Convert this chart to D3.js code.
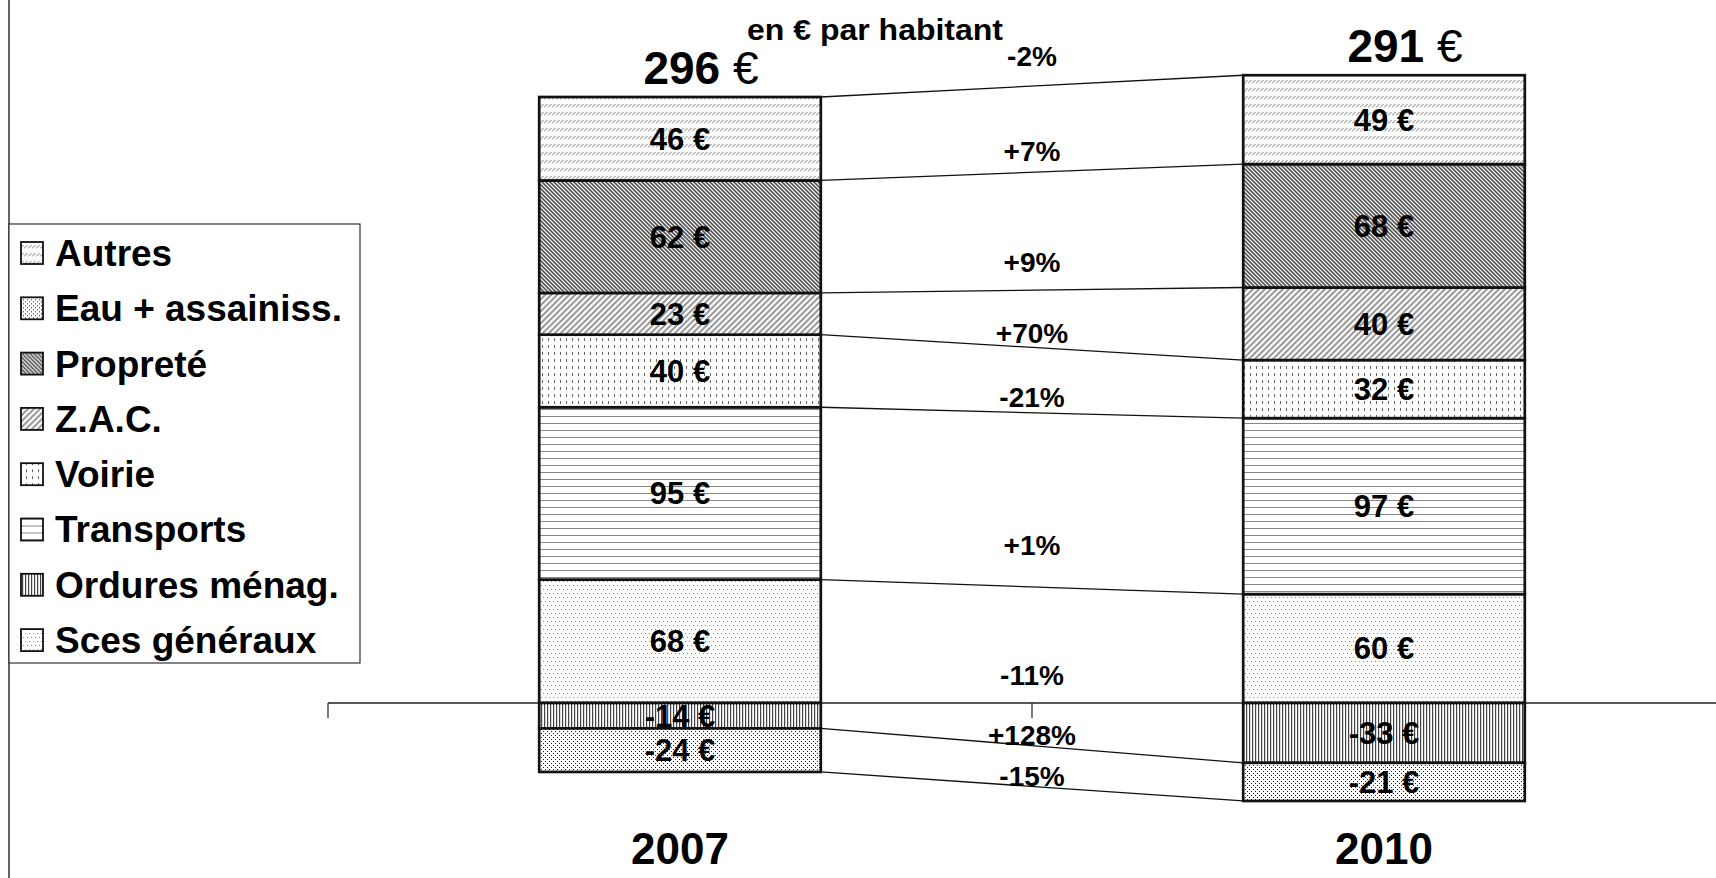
<!DOCTYPE html>
<html>
<head>
<meta charset="utf-8">
<script src="https://cdn.jsdelivr.net/npm/d3@7"></script>
<style>
  body { margin: 0; background: #fff; }
  text { font-family: "Liberation Sans", Arial, sans-serif; }
</style>
</head>
<body>
<div id="vis"></div>
<script>
const FRAME_WIDTH = 1716;
const FRAME_HEIGHT = 878;

// series in stacking order (legend shows them reversed)
const categories = ["Sces généraux", "Ordures ménag.", "Transports", "Voirie",
                    "Z.A.C.", "Propreté", "Eau + assainiss.", "Autres"];
const years = ["2007", "2010"];
const values2007 = [68, -14, 95, 40, 23, 62, -24, 46];
const values2010 = [60, -33, 97, 32, 40, 68, -21, 49];
const totals = ["296", "291"];
const changes = ["-11%", "+128%", "+1%", "-21%", "+70%", "+9%", "-15%", "+7%"];
const totalChange = "-2%";
const patternIds = ["p-sces", "p-ord", "p-trans", "p-voirie", "p-zac", "p-prop", "p-eau", "p-autres"];

const rows = years.map((yr, i) => {
  const r = {year: yr};
  categories.forEach((c, j) => { r[c] = (i == 0 ? values2007 : values2010)[j]; });
  return r;
});

const stack = d3.stack().keys(categories).offset(d3.stackOffsetDiverging);
const series = stack(rows);

const X_SCALE = d3.scaleBand().domain(years).range([328, 1736]);
const Y_SCALE = d3.scaleLinear().domain([0, 334]).range([703, 97]);
const BAR_W = X_SCALE.bandwidth() * 0.4;
const barLeft = (yr) => X_SCALE(yr) + (X_SCALE.bandwidth() - BAR_W) / 2;

const FRAME = d3.select("#vis").append("svg")
  .attr("width", FRAME_WIDTH)
  .attr("height", FRAME_HEIGHT);

// fill patterns
const defs = FRAME.append("defs");
function pat(id, w, h, draw) {
  const p = defs.append("pattern").attr("id", id)
    .attr("patternUnits", "userSpaceOnUse").attr("width", w).attr("height", h);
  p.append("rect").attr("width", w).attr("height", h).attr("fill", "#fff");
  draw(p);
}
pat("p-autres", 4, 8, p => p.append("path").attr("d", "M0,3.5 L3.5,0").attr("stroke", "#777").attr("stroke-width", 1));
pat("p-prop", 4, 4, p => p.append("path").attr("d", "M0,0 L4,4 M-1,3 L1,5 M3,-1 L5,1").attr("stroke", "#555").attr("stroke-width", 1.6));
pat("p-zac", 6, 6, p => p.append("path").attr("d", "M0,6 L6,0 M-1,1 L1,-1 M5,7 L7,5").attr("stroke", "#9a9a9a").attr("stroke-width", 2));
pat("p-voirie", 6, 7, p => p.append("rect").attr("x", 2).attr("y", 2).attr("width", 1).attr("height", 3).attr("fill", "#666"));
pat("p-trans", 8, 7, p => p.append("rect").attr("x", 0).attr("y", 3).attr("width", 8).attr("height", 1).attr("fill", "#888"));
pat("p-sces", 4, 8, p => {
  p.append("rect").attr("x", 1).attr("y", 1).attr("width", 1).attr("height", 1).attr("fill", "#888");
  p.append("rect").attr("x", 3).attr("y", 5).attr("width", 1).attr("height", 1).attr("fill", "#888");
});
pat("p-ord", 3, 4, p => p.append("rect").attr("x", 1).attr("y", 0).attr("width", 1.2).attr("height", 4).attr("fill", "#444"));
pat("p-eau", 4, 4, p => {
  p.append("rect").attr("x", 1).attr("y", 1).attr("width", 1).attr("height", 1).attr("fill", "#222");
  p.append("rect").attr("x", 3).attr("y", 3).attr("width", 1).attr("height", 1).attr("fill", "#222");
});

// left frame edge
FRAME.append("line").attr("x1", 9).attr("x2", 9).attr("y1", 0).attr("y2", FRAME_HEIGHT)
  .attr("stroke", "#333").attr("stroke-width", 1.5);

// zero axis with ticks between categories
FRAME.append("line")
  .attr("x1", X_SCALE.range()[0]).attr("x2", FRAME_WIDTH)
  .attr("y1", Y_SCALE(0)).attr("y2", Y_SCALE(0))
  .attr("stroke", "#222").attr("stroke-width", 1.5);
FRAME.selectAll(".tick").data(years).enter().append("line")
  .attr("x1", d => X_SCALE(d)).attr("x2", d => X_SCALE(d))
  .attr("y1", Y_SCALE(0)).attr("y2", Y_SCALE(0) + 15)
  .attr("stroke", "#222").attr("stroke-width", 1.2);

// stacked bars
const groups = FRAME.selectAll(".serie").data(series).enter().append("g")
  .attr("fill", (d, i) => "url(#" + patternIds[i] + ")");
groups.selectAll("rect").data(d => d).enter().append("rect")
  .attr("x", d => barLeft(d.data.year))
  .attr("width", BAR_W)
  .attr("y", d => Y_SCALE(Math.max(d[0], d[1])))
  .attr("height", d => Math.abs(Y_SCALE(d[0]) - Y_SCALE(d[1])))
  .attr("stroke", "#111").attr("stroke-width", 2.7);

// series lines (outer end of each series)
const outer = (d, v) => v < 0 ? d[0] : d[1];
const inner = (d, v) => v < 0 ? d[1] : d[0];
series.forEach((s, i) => {
  FRAME.append("line")
    .attr("x1", barLeft("2007") + BAR_W).attr("y1", Y_SCALE(outer(s[0], values2007[i])))
    .attr("x2", barLeft("2010")).attr("y2", Y_SCALE(outer(s[1], values2010[i])))
    .attr("stroke", "#111").attr("stroke-width", 1.3);
});

// value labels
groups.selectAll("text").data((d, i) => d.map(p => ({p: p, v: (p.data.year == "2007" ? values2007 : values2010)[i]})))
  .enter().append("text")
  .attr("x", d => barLeft(d.p.data.year) + BAR_W / 2)
  .attr("y", d => Y_SCALE((d.p[0] + d.p[1]) / 2))
  .attr("dy", "0.35em")
  .attr("text-anchor", "middle")
  .attr("font-size", 31).attr("font-weight", "bold").attr("fill", "#000")
  .text(d => d.v + " €");

// change labels between bars, placed in the band between the two series lines
const midX = (barLeft("2007") + BAR_W + barLeft("2010")) / 2;
series.forEach((s, i) => {
  const a = (Y_SCALE(inner(s[0], values2007[i])) + Y_SCALE(inner(s[1], values2010[i]))) / 2;
  const b = (Y_SCALE(outer(s[0], values2007[i])) + Y_SCALE(outer(s[1], values2010[i]))) / 2;
  const c = values2007[i] < 0 ? a + 0.76 * (b - a) : b + 0.76 * (a - b);
  FRAME.append("text")
    .attr("x", midX).attr("y", c).attr("dy", "0.35em")
    .attr("text-anchor", "middle")
    .attr("font-size", 28).attr("font-weight", "bold")
    .text(changes[i]);
});
const tops = years.map((yr, i) => Y_SCALE(d3.sum(i == 0 ? values2007 : values2010, v => Math.max(v, 0))));
FRAME.append("text")
  .attr("x", midX).attr("y", (tops[0] + tops[1]) / 2 - 20)
  .attr("text-anchor", "middle")
  .attr("font-size", 28).attr("font-weight", "bold")
  .text(totalChange);

// totals above bars
years.forEach((yr, i) => {
  const t = FRAME.append("text")
    .attr("x", barLeft(yr) + BAR_W / 2 + 21).attr("y", tops[i] - 13)
    .attr("text-anchor", "middle").attr("font-size", 46);
  t.append("tspan").attr("font-weight", "bold").text(totals[i]);
  t.append("tspan").text(" €");
});

// year labels
FRAME.selectAll(".year").data(years).enter().append("text")
  .attr("x", d => barLeft(d) + BAR_W / 2).attr("y", 864)
  .attr("text-anchor", "middle")
  .attr("font-size", 44).attr("font-weight", "bold")
  .text(d => d);

// subtitle
FRAME.append("text")
  .attr("x", 875).attr("y", 40)
  .attr("text-anchor", "middle")
  .attr("font-size", 29).attr("font-weight", "bold")
  .attr("textLength", 256).attr("lengthAdjust", "spacingAndGlyphs")
  .text("en € par habitant");

// legend
const legend = FRAME.append("g");
legend.append("rect").attr("x", 9).attr("y", 224).attr("width", 351).attr("height", 439)
  .attr("fill", "#fff").attr("stroke", "#333").attr("stroke-width", 1.2);
const legendItems = categories.map((c, i) => ({name: c, pat: patternIds[i]})).reverse();
const item = legend.selectAll(".item").data(legendItems).enter().append("g")
  .attr("transform", (d, i) => "translate(0," + (253 + i * 55.3) + ")");
item.append("rect").attr("x", 21).attr("y", -11).attr("width", 22).attr("height", 22)
  .attr("fill", d => "url(#" + d.pat + ")").attr("stroke", "#111").attr("stroke-width", 1.8);
item.append("text").attr("x", 55).attr("dy", "0.35em")
  .attr("font-size", 37).attr("font-weight", "bold")
  .text(d => d.name);
</script>
</body>
</html>
